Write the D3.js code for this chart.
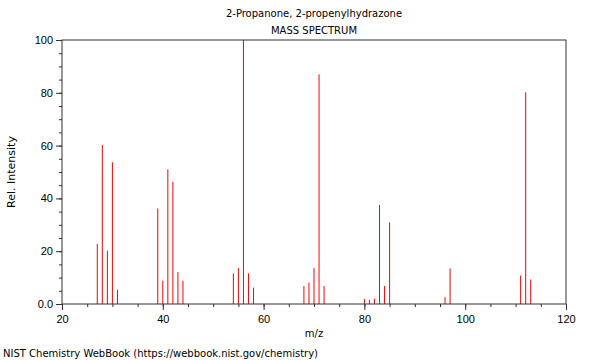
<!DOCTYPE html>
<html>
<head>
<meta charset="utf-8">
<script src="https://cdn.jsdelivr.net/npm/d3@7"></script>
<style>
  body { margin: 0; background: #fff; }
  svg { display: block; font-family: "DejaVu Sans", sans-serif; }
</style>
</head>
<body>
<div id="chart"></div>
<script>
var titleLines = ["2-Propanone, 2-propenylhydrazone", "MASS SPECTRUM"];
var mz = [27, 28, 29, 30, 31, 39, 40, 41, 42, 43, 44, 54, 55, 56, 57, 58,
          68, 69, 70, 71, 72, 80, 81, 82, 83, 84, 85, 96, 97, 111, 112, 113];
var intensity = [22.8, 60.2, 20.2, 53.7, 5.4, 36.2, 8.8, 51.0, 46.3, 12.1, 8.8,
                 11.6, 13.6, 100, 11.6, 6.2, 6.8, 8.1, 13.6, 87.0, 6.8,
                 1.9, 1.6, 2.0, 37.5, 6.8, 30.9, 2.6, 13.5, 10.8, 80.2, 9.3];
var xTicks = [20, 40, 60, 80, 100, 120];
var yTicks = [0, 20, 40, 60, 80, 100];

var W = 600, H = 360,
    margin = {top: 40, right: 34, bottom: 56, left: 62},
    width = W - margin.left - margin.right,
    height = H - margin.top - margin.bottom;

var svg = d3.select("#chart").append("svg")
  .attr("width", W)
  .attr("height", H);

var g = svg.append("g")
  .attr("transform", "translate(" + margin.left + "," + margin.top + ")");

var x = d3.scaleLinear().domain([20, 120]).range([0, width]);
var y = d3.scaleLinear().domain([0, 100]).range([height, 0]);

// peaks
g.selectAll(".peak")
  .data(mz)
  .enter().append("line")
    .attr("class", "peak")
    .attr("x1", function(d) { return x(d); })
    .attr("x2", function(d) { return x(d); })
    .attr("y1", y(0))
    .attr("y2", function(d, i) { return y(intensity[i]); })
    .attr("stroke", "#ff0000")
    .attr("stroke-width", 1);

// minor ticks
g.append("g")
    .attr("transform", "translate(0," + height + ")")
    .call(d3.axisBottom(x).tickValues(d3.range(20, 121, 5)).tickSize(3).tickFormat(""))
    .call(function(s) { s.select(".domain").remove(); });
g.append("g")
    .call(d3.axisLeft(y).tickValues(d3.range(0, 101, 5)).tickSize(3).tickFormat(""))
    .call(function(s) { s.select(".domain").remove(); });

// major ticks
var xAxis = g.append("g")
    .attr("transform", "translate(0," + height + ")")
    .call(d3.axisBottom(x).tickValues(xTicks).tickSize(6).tickPadding(5));
var yAxis = g.append("g")
    .call(d3.axisLeft(y).tickValues(yTicks).tickSize(6).tickPadding(3)
      .tickFormat(function(d) { return d === 0 ? "0.0" : d; }));

[xAxis, yAxis].forEach(function(a) {
  a.select(".domain").remove();
  a.selectAll("text").style("font-size", "11px").attr("fill", "#000");
});
g.selectAll(".tick line").attr("stroke", "#333");

// frame
g.append("rect")
    .attr("width", width)
    .attr("height", height)
    .attr("fill", "none")
    .attr("stroke", "#333")
    .attr("stroke-width", 1);

// titles
svg.selectAll(".title")
  .data(titleLines)
  .enter().append("text")
    .attr("class", "title")
    .attr("x", margin.left + width / 2)
    .attr("y", function(d, i) { return 17 + i * 17; })
    .attr("text-anchor", "middle")
    .style("font-size", "10px")
    .text(function(d) { return d; });

svg.append("text")
    .attr("x", margin.left + width / 2)
    .attr("y", 337)
    .attr("text-anchor", "middle")
    .style("font-size", "10px")
    .text("m/z");

svg.append("text")
    .attr("transform", "translate(15," + (margin.top + height / 2) + ") rotate(-90)")
    .attr("text-anchor", "middle")
    .style("font-size", "11px")
    .text("Rel. Intensity");

svg.append("text")
    .attr("x", 3)
    .attr("y", 357)
    .style("font-size", "10px")
    .text("NIST Chemistry WebBook (https://webbook.nist.gov/chemistry)");
</script>
</body>
</html>
